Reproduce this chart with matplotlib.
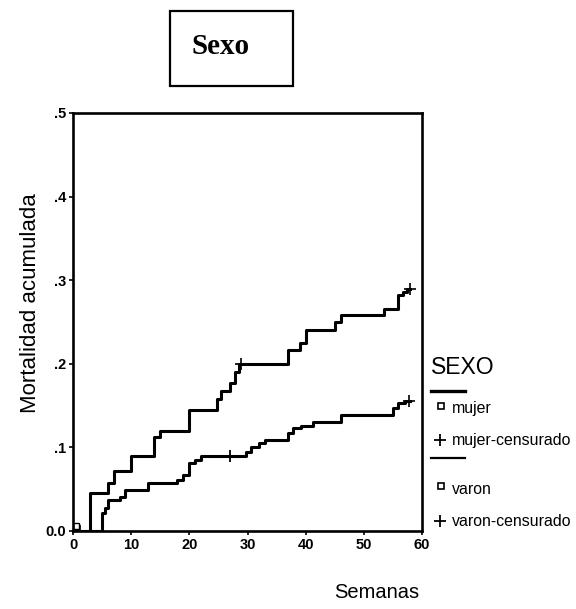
import matplotlib
matplotlib.use("Agg")
import matplotlib.pyplot as plt
from matplotlib.patches import Rectangle
from matplotlib.lines import Line2D

# ---- data ----
mujer_t = [0, 3, 6, 7, 10, 14, 15, 20, 24.7, 25.5, 27, 27.8, 28.6, 37, 39, 40, 45, 46, 53.5, 55.8, 56.7, 57.5, 58]
mujer_v = [0, 0.045, 0.058, 0.072, 0.090, 0.112, 0.120, 0.145, 0.158, 0.168, 0.177, 0.190, 0.200,
           0.216, 0.225, 0.241, 0.250, 0.258, 0.266, 0.282, 0.286, 0.290, 0.290]
mujer_cens_t = [1.2, 28.9, 57.9]
mujer_cens_v = [0.0, 0.200, 0.290]

varon_t = [0, 4.9, 5.5, 6, 8, 8.9, 12.9, 17.8, 18.9, 20, 21, 22, 29.8, 30.6, 32, 33, 36.9, 37.8,
           39.2, 41.2, 46, 55, 55.8, 57, 58]
varon_v = [0, 0.021, 0.027, 0.037, 0.041, 0.049, 0.058, 0.061, 0.067, 0.081, 0.085, 0.090, 0.095,
           0.100, 0.105, 0.109, 0.117, 0.123, 0.126, 0.130, 0.139, 0.147, 0.153, 0.155, 0.155]
varon_cens_t = [27, 57.8]
varon_cens_v = [0.090, 0.155]

xticks = [0, 10, 20, 30, 40, 50, 60]
yticks = [0.0, 0.1, 0.2, 0.3, 0.4, 0.5]
ytick_labels = ["0.0", ".1", ".2", ".3", ".4", ".5"]
legend_labels = ["mujer", "mujer-censurado", "varon", "varon-censurado"]

# ---- figure ----
W, H = 576, 609
fig = plt.figure(figsize=(W / 100, H / 100), dpi=100)
ax = fig.add_axes([73 / W, 1 - 531 / H, (422 - 73) / W, (531 - 113) / H])

lw = 2.2
ax.step(mujer_t, mujer_v, where="post", color="black", lw=lw)
ax.step(varon_t, varon_v, where="post", color="black", lw=lw)
ax.plot(mujer_cens_t, mujer_cens_v, "+", color="black", ms=8, mew=1.2)
ax.plot(varon_cens_t[:1], varon_cens_v[:1], "|", color="black", ms=9, mew=1.3)
ax.plot(varon_cens_t[1:], varon_cens_v[1:], "+", color="black", ms=8, mew=1.2)
ax.plot([0.5], [0.006], "s", mfc="white", mec="black", ms=5, mew=1)

ax.set_xlim(0, 60)
ax.set_ylim(0, 0.5)
ax.set_xticks(xticks)
ax.set_xticklabels([str(x) for x in xticks], fontsize=10.5, fontweight="bold",
                   family="Liberation Sans")
ax.set_yticks(yticks)
ax.set_yticklabels(ytick_labels, fontsize=10.5, fontweight="bold", family="Liberation Sans")
ax.tick_params(axis="both", direction="out", length=3, width=1.2, pad=2)
for s in ax.spines.values():
    s.set_linewidth(1.9)

# axis labels
fig.text(31 / W, 1 - 303 / H, "Mortalidad acumulada", rotation=90, ha="center", va="center",
         fontsize=16, family="Liberation Sans")
fig.text(377 / W, 1 - 592 / H, "Semanas", ha="center", va="center",
         fontsize=14.5, family="Liberation Sans")

# title box
fig.patches.append(Rectangle((170 / W, 1 - 86 / H), (293 - 170) / W, (86 - 11) / H,
                             transform=fig.transFigure, fill=False, edgecolor="black", lw=1.6))
fig.text(221 / W, 1 - 46 / H, "Sexo", ha="center", va="center", fontsize=21,
         fontweight="bold", family="Liberation Serif")

# legend (manual, SPSS style)
fig.text(431 / W, 1 - 367 / H, "SEXO", ha="left", va="center", fontsize=16.5,
         family="Liberation Sans")
fig.add_artist(Line2D([431 / W, 465 / W], [1 - 391 / H, 1 - 391 / H], color="black", lw=2.4,
                      transform=fig.transFigure))
fig.add_artist(Line2D([431 / W, 465 / W], [1 - 458 / H, 1 - 458 / H], color="black", lw=1.6,
                      transform=fig.transFigure))
rows = [(409, "s"), (440, "+"), (489, "s"), (521, "+")]
for (yy, mk), lab in zip(rows, legend_labels):
    if mk == "s":
        fig.add_artist(Line2D([441 / W], [1 - (yy - 3) / H], marker="s", mfc="white", mec="black",
                              ms=4, mew=1.2, transform=fig.transFigure))
    else:
        fig.add_artist(Line2D([440 / W], [1 - yy / H], marker="+", color="black",
                              ms=8, mew=1.3, transform=fig.transFigure))
    fig.text(452 / W, 1 - yy / H, lab, ha="left", va="center", fontsize=11.4,
             family="Liberation Sans")

fig.savefig("out.png", dpi=100)
